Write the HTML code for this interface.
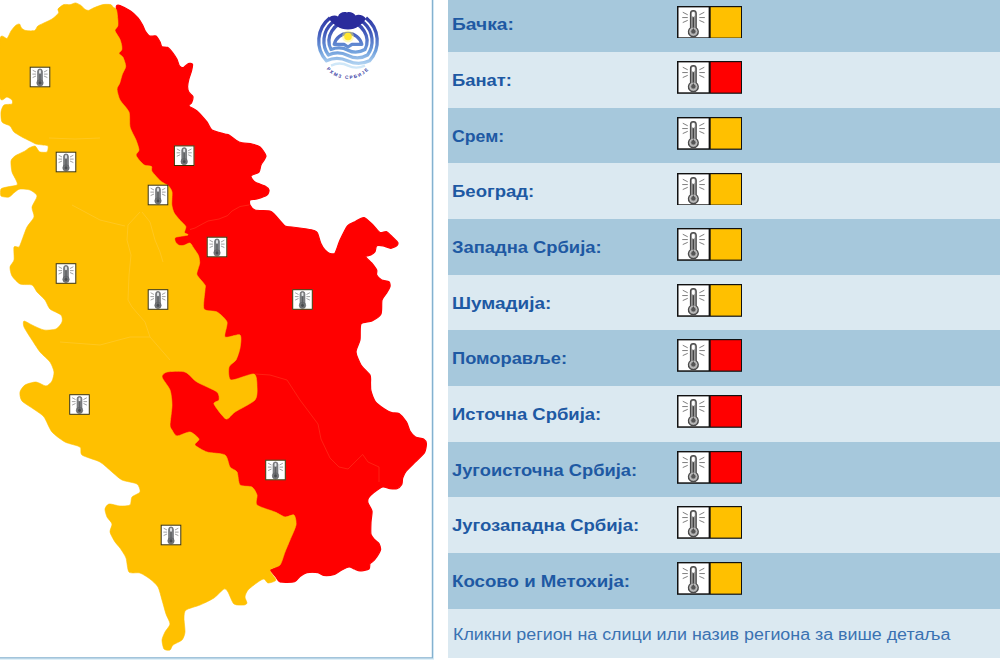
<!DOCTYPE html>
<html lang="sr"><head><meta charset="utf-8"><title>Upozorenja</title>
<style>
html,body{margin:0;padding:0;background:#fff;}
body{width:1000px;height:660px;overflow:hidden;position:relative;font-family:"Liberation Sans",sans-serif;}
#mapbox{position:absolute;left:0;top:0;width:440px;height:660px;overflow:hidden;}
#map{position:absolute;left:0;top:0;}
#legend{position:absolute;left:448px;top:0;width:552px;height:660px;overflow:hidden;}
.row{position:absolute;left:0;width:552px;}
.lbl{position:absolute;left:4px;top:50%;margin-top:-8px;height:18px;line-height:18px;font-size:16px;font-weight:bold;color:#1E59A3;white-space:nowrap;transform-origin:0 50%;display:inline-block;}
.ic{position:absolute;left:229px;top:9.1px;}
.ftx{position:absolute;left:5px;top:50%;margin-top:-7.5px;height:18px;line-height:18px;font-size:16px;color:#3a72b2;white-space:nowrap;transform-origin:0 50%;display:inline-block;}
</style></head><body>
<div id="mapbox"><svg id="map" width="440" height="660" viewBox="0 0 440 660">
<defs><symbol id="th" viewBox="0 0 32 32">
<rect x="0" y="0" width="32" height="32" fill="#fff"/>
<g stroke="#777" stroke-width="1" stroke-linecap="round" fill="none">
<path d="M5 5.5L9.5 7.8M4.5 10.9H9.5M5 16L9.5 14M27 5.5L22.5 7.8M27.5 10.9H22.5M27 16L22.5 14"/>
</g>
<path d="M12.8 6.5a3 3 0 0 1 6 0V21.6a5.2 5.2 0 1 1-6 0Z" fill="#9a9a9a" stroke="#4a4a4a" stroke-width="1.3"/>
<rect x="14.3" y="5" width="3" height="5" rx="1.2" fill="#fff"/>
<path d="M15.8 10.5V25" stroke="#444" stroke-width="1.4"/>
<circle cx="15.8" cy="25.6" r="2.2" fill="#555"/>
<circle cx="15.8" cy="25.6" r="3.6" fill="none" stroke="#c8c8c8" stroke-width="0.9"/>
</symbol>
<symbol id="ths" viewBox="0 0 20 20">
<rect x="0" y="0" width="20" height="20" fill="#fff"/>
<g stroke="#9a9a9a" stroke-width="0.9" stroke-linecap="round" fill="none">
<path d="M3.2 3.6L5.8 5M3 7.2H5.8M3.2 10.4L5.8 9.2M16.8 3.6L14.2 5M17 7.2H14.2M16.8 10.4L14.2 9.2"/>
</g>
<rect x="7.7" y="2.2" width="4.6" height="14" rx="2.3" fill="#808284" stroke="#606264" stroke-width="0.7"/>
<circle cx="10" cy="15.7" r="3.1" fill="#747678" stroke="#606264" stroke-width="0.6"/>
<rect x="9.1" y="3.3" width="1.8" height="3.4" rx="0.9" fill="#e4e6e8"/>
<path d="M10 7.2V15" stroke="#5e6062" stroke-width="1.3"/>
<circle cx="10" cy="15.8" r="1.4" fill="#4a4c4e"/>
</symbol></defs>
<path d="M116.5,9.8C116.3,8.2 116.1,6.4 116.5,5.9C116.9,5.4 118.4,5.0 120,5.6C121.6,6.2 128.4,9.6 130.5,11C132.6,12.4 136.4,16.1 137.8,17.7C139.2,19.3 141.8,23.5 142.6,25C143.4,26.5 144.2,29.2 145,30.5C145.8,31.8 148.5,35.4 149.8,36C151.1,36.6 154.8,35.3 156,36C157.2,36.7 159.3,40.6 160,41.8C160.7,43.0 160.9,45.9 161.8,46.6C162.7,47.3 166.2,46.7 167.5,47.4C168.8,48.1 171.9,51.6 173,53C174.1,54.4 176.2,57.9 177,59.4C177.8,60.9 178.7,65.0 179.5,65.9C180.3,66.8 182.5,67.8 183.5,67.5C184.5,67.2 187.3,63.9 188.4,63.5C189.5,63.1 192.1,63.5 192.5,64.3C192.9,65.1 192.0,69.0 191.6,70.7C191.2,72.4 189.5,76.8 189,78.7C188.5,80.6 187.6,85.1 187.6,86.7C187.6,88.3 188.4,91.3 189,92.4C189.6,93.5 192.6,95.2 192.9,96.4C193.2,97.6 192.1,101.7 191.6,102.8C191.1,103.9 188.4,105.0 189,106C189.6,107.0 194.9,109.1 197,111C199.1,112.9 205.2,119.8 207,122C208.8,124.2 209.9,128.6 212,130C214.1,131.4 223.0,133.4 225,134C227.0,134.6 227.4,134.1 229,135C230.6,135.9 236.3,140.9 239,142C241.7,143.1 249.6,143.4 252,144C254.4,144.6 258.4,145.6 260,147C261.6,148.4 265.9,153.9 266,156C266.1,158.1 261.8,163.1 261,165C260.2,166.9 260.2,170.7 259,172C257.8,173.3 251.5,174.8 251,176C250.5,177.2 253.4,180.8 255,182C256.6,183.2 263.4,185.1 265,186C266.6,186.9 268.8,188.9 269,190C269.2,191.1 268.4,193.9 267,195C265.6,196.1 259.0,198.4 257,199C255.0,199.6 250.8,199.3 250,200C249.2,200.7 249.4,203.8 250,205C250.6,206.2 252.7,209.3 255,210C257.3,210.7 267.7,210.4 270,211C272.3,211.6 273.2,213.2 275,215C276.8,216.8 283.0,224.6 285,226C287.0,227.4 289.4,226.7 292,227C294.6,227.3 304.4,228.6 307,229C309.6,229.4 312.8,230.0 314,230.5C315.2,231.0 316.7,231.5 317.5,233C318.3,234.5 319.9,241.3 320.8,243.3C321.7,245.3 323.9,248.8 325,250C326.1,251.2 328.8,253.2 330,253.5C331.2,253.8 333.8,254.6 335,253C336.2,251.4 338.5,243.2 340,240C341.5,236.8 345.8,227.9 347.5,225.8C349.2,223.7 353.1,222.7 355,221.7C356.9,220.7 361.9,217.1 364,217.5C366.1,217.9 371.1,223.2 373,225C374.9,226.8 378.4,231.7 380,232.5C381.6,233.3 385.2,231.1 386.7,231.7C388.2,232.3 391.7,236.2 393,237.5C394.3,238.8 397.4,241.5 397.8,242.5C398.2,243.5 397.5,245.1 396.7,245.8C395.9,246.5 392.4,248.3 390.8,248.3C389.2,248.3 384.6,246.1 383,245.8C381.4,245.5 377.6,245.1 376.7,245.8C375.8,246.5 375.7,250.6 375,251.7C374.3,252.8 371.9,254.4 370.8,255C369.7,255.6 365.7,255.8 365.8,256.7C365.9,257.6 370.4,261.4 371.7,263C373.0,264.6 376.1,268.6 376.7,270C377.3,271.4 376.1,273.8 376.7,275C377.3,276.2 380.3,279.2 381.7,280C383.1,280.8 388.0,280.9 389,281.7C390.0,282.5 390.3,285.4 390,286.7C389.7,288.0 387.6,291.4 386.7,293C385.8,294.6 382.7,297.6 382,300C381.3,302.4 382.2,311.6 381,314C379.8,316.4 374.3,319.8 372,321C369.7,322.2 362.4,321.8 361,324C359.6,326.2 360.6,336.7 360,340C359.4,343.3 355.9,349.1 356,352C356.1,354.9 359.4,362.3 361,365C362.6,367.7 368.9,372.9 370,375C371.1,377.1 370.4,381.1 370.5,383C370.6,384.9 370.4,388.8 371,391C371.6,393.2 373.9,399.7 375.5,401.8C377.1,403.9 382.6,407.7 384.5,409C386.4,410.3 390.1,412.2 391.8,412.7C393.5,413.2 397.3,412.5 399,413.6C400.7,414.7 405.1,419.8 406.4,421.8C407.7,423.8 408.9,429.2 410,431C411.1,432.8 413.9,436.1 415.5,437C417.1,437.9 422.3,438.2 423.6,439C424.9,439.8 426.3,442.0 426.4,443.6C426.5,445.2 425.8,450.6 424.5,452.7C423.2,454.8 417.6,459.7 415.5,461.8C413.4,463.9 407.9,469.1 406.4,471C404.9,472.9 403.2,476.4 402.7,478C402.2,479.6 402.5,483.3 401.8,484.5C401.1,485.7 398.4,488.2 397,488.7C395.6,489.2 391.7,488.9 390,488.7C388.3,488.5 384.6,486.5 382.7,487C380.8,487.5 375.3,491.4 373.6,492.7C371.9,494.0 369.2,496.8 368.5,498C367.8,499.2 367.6,501.5 368,503C368.4,504.5 371.6,508.8 372,511C372.4,513.2 371.1,519.3 371,522C370.9,524.7 370.5,532.4 371,534.5C371.5,536.6 374.1,538.9 375,540C375.9,541.1 378.4,542.4 379,543.6C379.6,544.8 381.0,548.1 380.5,550C380.0,551.9 375.7,558.4 374.5,560C373.3,561.6 370.6,562.6 370,563.6C369.4,564.6 370.2,568.1 369,569C367.8,569.9 361.7,571.0 360,571C358.3,571.0 355.8,569.5 354.5,569C353.2,568.5 350.5,566.9 349,567C347.5,567.1 343.5,569.1 341.8,570C340.1,570.9 336.6,573.9 334.5,574.5C332.4,575.1 325.5,575.7 323.6,575.5C321.7,575.3 319.9,573.0 318,572.7C316.1,572.4 309.1,572.3 307,572.7C304.9,573.1 301.5,575.3 300,576.4C298.5,577.5 296.8,581.1 294.5,581.8C292.2,582.5 282.2,582.6 280,582C277.8,581.4 277.2,578.4 276,577C274.8,575.6 270.7,570.8 270,570C269.3,569.2 268.8,570.6 270,570C271.2,569.4 278.2,567.1 280,565C281.8,562.9 283.8,554.9 285,552C286.2,549.1 288.7,543.1 290,540C291.3,536.9 295.5,527.9 296,525C296.5,522.1 295.3,515.9 294,515C292.7,514.1 287.2,517.4 285,517C282.8,516.6 278.3,513.4 275,512C271.7,510.6 259.1,507.0 257,505C254.9,503.0 257.6,497.1 257,495C256.4,492.9 254.0,488.2 252,487C250.0,485.8 241.8,486.8 240,485C238.2,483.2 238.2,474.1 237,472C235.8,469.9 231.4,469.0 230,467C228.6,465.0 227.7,456.8 225,455C222.3,453.2 210.5,453.2 207,452C203.5,450.8 195.9,446.5 195,445C194.1,443.5 199.6,440.5 199,439C198.4,437.5 192.6,432.4 190,432C187.4,431.6 179.1,436.2 177,436C174.9,435.8 172.8,431.3 172,430C171.2,428.7 170.0,427.9 170,425C170.0,422.1 172.0,409.1 172,405C172.0,400.9 171.2,393.3 170,390C168.8,386.7 162.3,379.1 162,377C161.7,374.9 164.3,372.6 167,372C169.7,371.4 181.5,370.8 185,372C188.5,373.2 193.3,379.7 197,382C200.7,384.3 214.4,389.9 217,392C219.6,394.1 219.3,398.6 219,400C218.7,401.4 213.2,401.8 214,404C214.8,406.2 223.6,418.1 226,419C228.4,419.9 231.6,414.2 235,412C238.4,409.8 252.4,402.9 255,400C257.6,397.1 257.1,390.0 257,387C256.9,384.0 257.0,374.8 254,374C251.0,373.2 233.9,380.8 231,380C228.1,379.2 228.4,369.3 229,367C229.6,364.7 234.7,362.2 236,360C237.3,357.8 239.5,350.9 240,348C240.5,345.1 241.8,336.3 240,335C238.2,333.7 226.5,338.5 225,337C223.5,335.5 227.9,324.9 227,322C226.1,319.1 219.7,313.5 217,312C214.3,310.5 205.4,311.6 204,309C202.6,306.4 204.9,292.8 205,290C205.1,287.2 205.9,286.8 205,285C204.1,283.2 197.8,276.9 197,275C196.2,273.1 197.7,270.4 198,269C198.3,267.6 199.6,264.6 199.7,263C199.8,261.4 199.2,257.4 198.5,255.6C197.8,253.8 194.6,249.5 193.6,248C192.6,246.5 191.1,243.3 190,243C188.9,242.7 185.3,245.0 184,245.3C182.7,245.6 180.0,245.7 179,245.3C178.0,244.9 175.9,242.9 175.5,242C175.1,241.1 174.0,238.2 175.5,237.4C177.0,236.6 186.9,235.6 188,235C189.1,234.4 184.8,233.6 184.5,232.6C184.2,231.6 186.3,227.9 185.8,226.5C185.3,225.1 181.7,222.1 180.3,220.5C178.9,218.9 175.2,214.8 174.2,213C173.2,211.2 172.1,207.4 171.8,205C171.5,202.6 172.4,194.2 172,192C171.6,189.8 169.8,187.3 168.5,186C167.2,184.7 162.5,182.7 160.6,181C158.7,179.3 153.1,173.1 152,171.4C150.9,169.7 152.3,167.2 151.5,166.5C150.7,165.8 146.1,165.9 144.8,165.3C143.5,164.7 141.0,162.2 140,161C139.0,159.8 136.1,156.3 136,155C135.9,153.7 139.0,151.8 139,150C139.0,148.2 137.1,142.7 136,140C134.9,137.3 130.8,130.3 130,127C129.2,123.7 130.2,115.2 129,112C127.8,108.8 121.4,102.7 120,100C118.6,97.3 117.0,91.0 117,89C117.0,87.0 119.2,84.8 119.8,83C120.4,81.2 121.7,75.9 122.4,74C123.1,72.1 125.6,68.3 125.7,66.4C125.8,64.5 123.8,58.8 123,57.3C122.2,55.8 119.2,54.3 119,53.4C118.8,52.5 121.4,50.9 121.7,50C122.0,49.1 121.9,46.9 121.7,45.6C121.5,44.3 120.6,40.8 119.8,39C119.0,37.2 115.2,32.1 115,30.6C114.8,29.1 117.5,27.3 117.8,26C118.1,24.7 118.0,21.4 117.8,19.5C117.6,17.6 116.7,11.4 116.5,9.8Z" fill="#FF0000" stroke="#FF0000" stroke-width="1.2" stroke-linejoin="round"/>
<path d="M0,39C0.8,32.2 5.7,39.3 7,38.4C8.3,37.5 10.0,32.5 11,31C12.0,29.5 14.6,26.2 15.6,25.4C16.6,24.6 18.8,23.7 19.5,24C20.2,24.3 20.7,27.2 21.5,28C22.3,28.8 24.5,30.3 26,30.6C27.5,30.9 33.1,31.1 34.5,30.6C35.9,30.1 36.8,26.8 37.8,26C38.8,25.2 41.3,24.2 43,23.4C44.7,22.6 50.2,20.2 52,19C53.8,17.8 57.9,14.2 58.6,13C59.3,11.8 57.4,10.0 58,9C58.6,8.0 62.4,5.1 63.8,4.6C65.2,4.1 68.9,4.8 70.3,4.6C71.7,4.4 74.3,2.8 75.5,2.9C76.7,3.0 79.6,4.5 80.7,5.2C81.8,5.9 83.7,8.4 84.6,9C85.5,9.6 87.4,10.5 88.5,10.4C89.6,10.3 92.1,8.5 93.8,7.8C95.5,7.1 101.0,5.0 103,4.6C105.0,4.2 109.5,4.3 110.7,4.6C111.9,4.9 112.3,6.4 113,7C113.7,7.6 115.9,8.3 116.5,9.8C117.1,11.3 117.6,17.6 117.8,19.5C118.0,21.4 118.1,24.7 117.8,26C117.5,27.3 114.8,29.1 115,30.6C115.2,32.1 119.0,37.2 119.8,39C120.6,40.8 121.5,44.3 121.7,45.6C121.9,46.9 122.0,49.1 121.7,50C121.4,50.9 118.8,52.5 119,53.4C119.2,54.3 122.2,55.8 123,57.3C123.8,58.8 125.8,64.5 125.7,66.4C125.6,68.3 123.1,72.1 122.4,74C121.7,75.9 120.4,81.2 119.8,83C119.2,84.8 117.0,87.0 117,89C117.0,91.0 118.6,97.3 120,100C121.4,102.7 127.8,108.8 129,112C130.2,115.2 129.2,123.7 130,127C130.8,130.3 134.9,137.3 136,140C137.1,142.7 139.0,148.2 139,150C139.0,151.8 135.9,153.7 136,155C136.1,156.3 139.0,159.8 140,161C141.0,162.2 143.5,164.7 144.8,165.3C146.1,165.9 150.7,165.8 151.5,166.5C152.3,167.2 150.9,169.7 152,171.4C153.1,173.1 158.7,179.3 160.6,181C162.5,182.7 167.2,184.7 168.5,186C169.8,187.3 171.6,189.8 172,192C172.4,194.2 171.5,202.6 171.8,205C172.1,207.4 173.2,211.2 174.2,213C175.2,214.8 178.9,218.9 180.3,220.5C181.7,222.1 185.3,225.1 185.8,226.5C186.3,227.9 184.2,231.6 184.5,232.6C184.8,233.6 189.1,234.4 188,235C186.9,235.6 177.0,236.6 175.5,237.4C174.0,238.2 175.1,241.1 175.5,242C175.9,242.9 178.0,244.9 179,245.3C180.0,245.7 182.7,245.6 184,245.3C185.3,245.0 188.9,242.7 190,243C191.1,243.3 192.6,246.5 193.6,248C194.6,249.5 197.8,253.8 198.5,255.6C199.2,257.4 199.8,261.4 199.7,263C199.6,264.6 198.3,267.6 198,269C197.7,270.4 196.2,273.1 197,275C197.8,276.9 204.1,283.2 205,285C205.9,286.8 205.1,287.2 205,290C204.9,292.8 202.6,306.4 204,309C205.4,311.6 214.3,310.5 217,312C219.7,313.5 226.1,319.1 227,322C227.9,324.9 223.5,335.5 225,337C226.5,338.5 238.2,333.7 240,335C241.8,336.3 240.5,345.1 240,348C239.5,350.9 237.3,357.8 236,360C234.7,362.2 229.6,364.7 229,367C228.4,369.3 228.1,379.2 231,380C233.9,380.8 251.0,373.2 254,374C257.0,374.8 256.9,384.0 257,387C257.1,390.0 257.6,397.1 255,400C252.4,402.9 238.4,409.8 235,412C231.6,414.2 228.4,419.9 226,419C223.6,418.1 214.8,406.2 214,404C213.2,401.8 218.7,401.4 219,400C219.3,398.6 219.6,394.1 217,392C214.4,389.9 200.7,384.3 197,382C193.3,379.7 188.5,373.2 185,372C181.5,370.8 169.7,371.4 167,372C164.3,372.6 161.7,374.9 162,377C162.3,379.1 168.8,386.7 170,390C171.2,393.3 172.0,400.9 172,405C172.0,409.1 170.0,422.1 170,425C170.0,427.9 171.2,428.7 172,430C172.8,431.3 174.9,435.8 177,436C179.1,436.2 187.4,431.6 190,432C192.6,432.4 198.4,437.5 199,439C199.6,440.5 194.1,443.5 195,445C195.9,446.5 203.5,450.8 207,452C210.5,453.2 222.3,453.2 225,455C227.7,456.8 228.6,465.0 230,467C231.4,469.0 235.8,469.9 237,472C238.2,474.1 238.2,483.2 240,485C241.8,486.8 250.0,485.8 252,487C254.0,488.2 256.4,492.9 257,495C257.6,497.1 254.9,503.0 257,505C259.1,507.0 271.7,510.6 275,512C278.3,513.4 282.8,516.6 285,517C287.2,517.4 292.7,514.1 294,515C295.3,515.9 296.5,522.1 296,525C295.5,527.9 291.3,536.9 290,540C288.7,543.1 286.2,549.1 285,552C283.8,554.9 281.8,562.9 280,565C278.2,567.1 270.5,568.2 270,570C269.5,571.8 276.2,578.5 276,580C275.8,581.5 269.4,583.1 268,583C266.6,582.9 265.2,579.1 264,579C262.8,578.9 259.9,580.7 258,582C256.1,583.3 249.5,588.2 248,590C246.5,591.8 245.1,595.5 245,597C244.9,598.5 247.1,602.1 247,603C246.9,603.9 245.5,604.9 244,605C242.5,605.1 235.9,605.5 234,604C232.1,602.5 229.2,593.8 228,592C226.8,590.2 225.6,588.3 224,589C222.4,589.7 216.8,596.1 214,598C211.2,599.9 203.3,603.6 200,605C196.7,606.4 187.9,608.5 186,610C184.1,611.5 184.1,615.4 184,618C183.9,620.6 185.2,629.4 185,632C184.8,634.6 183.4,638.5 182,640C180.6,641.5 174.4,643.8 173,645C171.6,646.2 171.1,649.5 170,650C168.9,650.5 164.9,650.2 164,649C163.1,647.8 161.9,642.0 162,640C162.1,638.0 164.1,633.9 165,632C165.9,630.1 169.9,626.1 170,624C170.1,621.9 166.9,616.8 166,614C165.1,611.2 162.9,603.1 162,600C161.1,596.9 159.4,589.5 158,587C156.6,584.5 152.1,580.6 150,579C147.9,577.4 142.4,573.8 140,573C137.6,572.2 130.6,573.8 129,572C127.4,570.2 127.0,560.8 126,558C125.0,555.2 121.3,549.9 120,548C118.7,546.1 116.2,543.9 115,542C113.8,540.1 110.3,534.1 110,532C109.7,529.9 112.3,525.8 112,524C111.7,522.2 107.8,518.8 107,517C106.2,515.2 104.8,510.5 105,509C105.2,507.5 107.2,504.4 109,504C110.8,503.6 117.5,505.9 120,506C122.5,506.1 128.6,506.1 130,505C131.4,503.9 130.8,498.5 132,497C133.2,495.5 139.4,493.5 140,492C140.6,490.5 139.1,485.4 137,484C134.9,482.6 124.9,481.4 122,480C119.1,478.6 114.6,474.1 112,472C109.4,469.9 103.5,464.0 100,462C96.5,460.0 84.3,456.8 82,455C79.7,453.2 82.0,448.5 80,447C78.0,445.5 68.3,443.8 65,442C61.7,440.2 54.5,434.9 52,432C49.5,429.1 46.0,419.6 44,417C42.0,414.4 37.6,411.9 35,410C32.4,408.1 23.8,403.1 22,401C20.2,398.9 19.6,393.9 20,392C20.4,390.1 23.1,386.2 25,385C26.9,383.8 33.5,381.9 36,382C38.5,382.1 44.1,386.1 46,386C47.9,385.9 51.1,382.6 52,381C52.9,379.4 54.2,374.2 54,372C53.8,369.8 51.6,364.3 50,362C48.4,359.7 42.1,354.6 40,352C37.9,349.4 33.9,342.9 32,340C30.1,337.1 24.9,329.2 24,327C23.1,324.8 23.1,321.2 24,321C24.9,320.8 29.7,323.9 32,325C34.3,326.1 41.2,329.5 44,330C46.8,330.5 53.9,329.9 56,329C58.1,328.1 61.4,323.6 62,322C62.6,320.4 62.4,316.5 61,315C59.6,313.5 51.9,310.8 50,309C48.1,307.2 46.5,302.0 45,300C43.5,298.0 38.5,293.8 37,292C35.5,290.2 34.0,285.9 32,285C30.0,284.1 22.3,285.1 20,284C17.7,282.9 13.2,278.0 12,276C10.8,274.0 9.8,268.9 10,267C10.2,265.1 13.5,262.3 14,260C14.5,257.7 13.4,248.5 14,247C14.6,245.5 18.1,247.8 19,247C19.9,246.2 21.1,242.3 22,240C22.9,237.7 25.6,229.7 27,227C28.4,224.3 33.4,219.3 34,217C34.6,214.7 31.6,209.4 32,207C32.4,204.6 37.2,198.0 37,196C36.8,194.0 32.0,190.8 30,190C28.0,189.2 21.8,188.8 20,189C18.2,189.2 16.3,191.1 15,192C13.7,192.9 10.6,196.5 9,197C7.4,197.5 1.9,196.9 1,196C0.1,195.1 0.3,190.1 1,189C1.7,187.9 5.1,187.5 7,187C8.9,186.5 15.9,185.8 17,185C18.1,184.2 16.6,181.5 16,180C15.4,178.5 12.6,174.2 12,172C11.4,169.8 10.7,162.9 11,161C11.3,159.1 13.4,157.2 15,156C16.6,154.8 23.4,151.9 25,151C26.6,150.1 27.8,148.6 29,148C30.2,147.4 34.0,145.8 35,146C36.0,146.2 37.4,149.3 38,150C38.6,150.7 39.0,151.8 40,152C41.0,152.2 46.1,152.7 47,152C47.9,151.3 48.5,146.8 48,146C47.5,145.2 44.4,145.2 43,145C41.6,144.8 37.5,144.5 36,144C34.5,143.5 31.6,141.8 30,141C28.4,140.2 23.9,138.1 22,137C20.1,135.9 15.4,133.3 14,132C12.6,130.7 11.4,127.2 10,126C8.6,124.8 3.0,123.6 2,122C0.9,120.4 0.8,114.0 1,112C1.2,110.0 2.7,105.9 4,105C5.3,104.1 11.1,104.6 12,104C12.9,103.4 12.6,100.8 12,100C11.4,99.2 8.4,97.3 7,97C5.6,96.7 0.8,103.8 0,97C-0.8,90.2 -0.8,45.8 0,39Z" fill="#FFC000" stroke="#FFC000" stroke-width="0.6" stroke-linejoin="round"/>
<g fill="none" stroke="#ffd65c" stroke-width="1" opacity="0.35"><polyline points="72,205 100,220 125,226"/><polyline points="140,212 128,225 127,240 131,255 129,275 128,300 132,307 145,322 150,337 170,360"/><polyline points="142,212 150,222 155,240 160,252 163,262"/><polyline points="60,342 100,345 130,337 150,337"/><polyline points="49,138 75,139 100,138"/></g><g fill="none" stroke="#ff4a2a" stroke-width="1" opacity="0.45"><polyline points="249,205 240,206.5 232,211 227.6,215.6 219,219 208,221 201,224.7 195,228 190,229.5"/><polyline points="255,374 270,375 287,380 300,400 318,424 321,439 330,458 339,467 348,469 357,460 362.7,454.5 368,462 379,467 379,482"/></g>
<g transform="translate(29.7,66.7)"><use href="#ths" width="20.6" height="20.6"/><rect x="0.5" y="0.5" width="19.6" height="19.6" fill="none" stroke="#3a3000" stroke-width="1"/></g>
<g transform="translate(55.7,151.7)"><use href="#ths" width="20.6" height="20.6"/><rect x="0.5" y="0.5" width="19.6" height="19.6" fill="none" stroke="#3a3000" stroke-width="1"/></g>
<g transform="translate(173.89999999999998,145.39999999999998)"><use href="#ths" width="20.6" height="20.6"/><rect x="0.5" y="0.5" width="19.6" height="19.6" fill="none" stroke="#3a3000" stroke-width="1"/></g>
<g transform="translate(147.7,184.7)"><use href="#ths" width="20.6" height="20.6"/><rect x="0.5" y="0.5" width="19.6" height="19.6" fill="none" stroke="#3a3000" stroke-width="1"/></g>
<g transform="translate(206.7,236.7)"><use href="#ths" width="20.6" height="20.6"/><rect x="0.5" y="0.5" width="19.6" height="19.6" fill="none" stroke="#3a3000" stroke-width="1"/></g>
<g transform="translate(55.7,263.2)"><use href="#ths" width="20.6" height="20.6"/><rect x="0.5" y="0.5" width="19.6" height="19.6" fill="none" stroke="#3a3000" stroke-width="1"/></g>
<g transform="translate(147.7,289.2)"><use href="#ths" width="20.6" height="20.6"/><rect x="0.5" y="0.5" width="19.6" height="19.6" fill="none" stroke="#3a3000" stroke-width="1"/></g>
<g transform="translate(292.2,289.2)"><use href="#ths" width="20.6" height="20.6"/><rect x="0.5" y="0.5" width="19.6" height="19.6" fill="none" stroke="#3a3000" stroke-width="1"/></g>
<g transform="translate(69.2,394.2)"><use href="#ths" width="20.6" height="20.6"/><rect x="0.5" y="0.5" width="19.6" height="19.6" fill="none" stroke="#3a3000" stroke-width="1"/></g>
<g transform="translate(265.2,459.7)"><use href="#ths" width="20.6" height="20.6"/><rect x="0.5" y="0.5" width="19.6" height="19.6" fill="none" stroke="#3a3000" stroke-width="1"/></g>
<g transform="translate(160.7,524.7)"><use href="#ths" width="20.6" height="20.6"/><rect x="0.5" y="0.5" width="19.6" height="19.6" fill="none" stroke="#3a3000" stroke-width="1"/></g>
<g id="logo" transform="translate(348,41)">
<defs><linearGradient id="lg" gradientUnits="userSpaceOnUse" x1="0" y1="-30" x2="0" y2="27"><stop offset="0" stop-color="#2a2c9c"/><stop offset="0.35" stop-color="#3f55b8"/><stop offset="0.7" stop-color="#6f9fdc"/><stop offset="1" stop-color="#c4e2f7"/></linearGradient>
<path id="tarc" d="M-24.5,23.5 A28,28 0 0 0 24.5,23.5"/></defs>
<g fill="none" stroke="url(#lg)" stroke-width="3.3" stroke-linejoin="round">
<path d="M-18,-23.1 A29.3,29.3 0 0 0 -21.5,19.8 Q-11,15 0,20 Q11,25 21.5,19.8 A29.3,29.3 0 0 0 18,-23.1"/>
<path d="M-19.6,14 A24.1,24.1 0 1 1 19.6,14 Q10,19.5 0,14.5 Q-10,9.5 -19.6,14Z"/>
<path d="M-17,8.5 A19,19 0 1 1 17,8.5 Q8,13.5 0,9.2 Q-8,5 -17,8.5Z"/>
<path d="M-13.8,3.3 A14.2,14.2 0 0 1 13.8,3.3 L4,3.3 L0,6 L-4,3.3Z" fill="#fff"/>
<path d="M-17,24.6 Q-8,20.5 0,24.6 Q8,28.6 17,24.6" stroke="#cfe7f8" stroke-width="2.4"/>
</g>
<path d="M-19,-22.3 C-18.5,-25 -13,-26.5 -10,-24.5 C-9,-28 -5,-29.6 -1,-28.6 C2,-29.6 6,-28 7.5,-25.5 C10,-27 16,-26 18,-22.3 C14,-16.5 8,-11.5 0,-11.5 C-8,-11.5 -15,-16.5 -19,-22.3Z" fill="#2a2c9c"/>
<circle cx="0" cy="-4.5" r="6" fill="#fff36a" opacity="0.45"/>
<circle cx="0" cy="-4.5" r="3.8" fill="#ffe62e"/>
<text font-family="Liberation Sans, sans-serif" font-size="4.6" fill="#34389f" letter-spacing="1.45" font-weight="bold"><textPath href="#tarc" startOffset="50%" text-anchor="middle">РХМЗ  СРБИЈЕ</textPath></text>
</g><path d="M433.5,0V659M0,659.2H434" fill="none" stroke="#d3e9f5" stroke-width="1"/><path d="M432.4,0V658.5M0,657.9H433" fill="none" stroke="#84b1cf" stroke-width="1.25"/></svg></div>
<div id="legend">
<div class="row" style="top:-3.56px;height:55.66px;background:#A6C8DC"><span class="lbl" id="l0" style="transform:scaleX(1.2000)">Бачка:</span><svg class="ic" width="65.4" height="32.8" viewBox="0 0 66 33" preserveAspectRatio="none"><rect x="0" y="0" width="66" height="33" fill="#111"/><use href="#th" x="1.2" y="1.2" width="31" height="30.6"/><rect x="34" y="1.2" width="30.6" height="30.6" fill="#FFC000"/></svg></div>
<div class="row" style="top:52.10px;height:55.66px;background:#DBE9F1"><span class="lbl" id="l1" style="transform:scaleX(1.1480)">Банат:</span><svg class="ic" width="65.4" height="32.8" viewBox="0 0 66 33" preserveAspectRatio="none"><rect x="0" y="0" width="66" height="33" fill="#111"/><use href="#th" x="1.2" y="1.2" width="31" height="30.6"/><rect x="34" y="1.2" width="30.6" height="30.6" fill="#FF0000"/></svg></div>
<div class="row" style="top:107.76px;height:55.66px;background:#A6C8DC"><span class="lbl" id="l2" style="transform:scaleX(1.1043)">Срем:</span><svg class="ic" width="65.4" height="32.8" viewBox="0 0 66 33" preserveAspectRatio="none"><rect x="0" y="0" width="66" height="33" fill="#111"/><use href="#th" x="1.2" y="1.2" width="31" height="30.6"/><rect x="34" y="1.2" width="30.6" height="30.6" fill="#FFC000"/></svg></div>
<div class="row" style="top:163.42px;height:55.66px;background:#DBE9F1"><span class="lbl" id="l3" style="transform:scaleX(1.1588)">Београд:</span><svg class="ic" width="65.4" height="32.8" viewBox="0 0 66 33" preserveAspectRatio="none"><rect x="0" y="0" width="66" height="33" fill="#111"/><use href="#th" x="1.2" y="1.2" width="31" height="30.6"/><rect x="34" y="1.2" width="30.6" height="30.6" fill="#FFC000"/></svg></div>
<div class="row" style="top:219.08px;height:55.66px;background:#A6C8DC"><span class="lbl" id="l4" style="transform:scaleX(1.1473)">Западна Србија:</span><svg class="ic" width="65.4" height="32.8" viewBox="0 0 66 33" preserveAspectRatio="none"><rect x="0" y="0" width="66" height="33" fill="#111"/><use href="#th" x="1.2" y="1.2" width="31" height="30.6"/><rect x="34" y="1.2" width="30.6" height="30.6" fill="#FFC000"/></svg></div>
<div class="row" style="top:274.74px;height:55.66px;background:#DBE9F1"><span class="lbl" id="l5" style="transform:scaleX(1.1827)">Шумадија:</span><svg class="ic" width="65.4" height="32.8" viewBox="0 0 66 33" preserveAspectRatio="none"><rect x="0" y="0" width="66" height="33" fill="#111"/><use href="#th" x="1.2" y="1.2" width="31" height="30.6"/><rect x="34" y="1.2" width="30.6" height="30.6" fill="#FFC000"/></svg></div>
<div class="row" style="top:330.40px;height:55.66px;background:#A6C8DC"><span class="lbl" id="l6" style="transform:scaleX(1.1429)">Поморавље:</span><svg class="ic" width="65.4" height="32.8" viewBox="0 0 66 33" preserveAspectRatio="none"><rect x="0" y="0" width="66" height="33" fill="#111"/><use href="#th" x="1.2" y="1.2" width="31" height="30.6"/><rect x="34" y="1.2" width="30.6" height="30.6" fill="#FF0000"/></svg></div>
<div class="row" style="top:386.06px;height:55.66px;background:#DBE9F1"><span class="lbl" id="l7" style="transform:scaleX(1.1528)">Источна Србија:</span><svg class="ic" width="65.4" height="32.8" viewBox="0 0 66 33" preserveAspectRatio="none"><rect x="0" y="0" width="66" height="33" fill="#111"/><use href="#th" x="1.2" y="1.2" width="31" height="30.6"/><rect x="34" y="1.2" width="30.6" height="30.6" fill="#FF0000"/></svg></div>
<div class="row" style="top:441.72px;height:55.66px;background:#A6C8DC"><span class="lbl" id="l8" style="transform:scaleX(1.1438)">Југоисточна Србија:</span><svg class="ic" width="65.4" height="32.8" viewBox="0 0 66 33" preserveAspectRatio="none"><rect x="0" y="0" width="66" height="33" fill="#111"/><use href="#th" x="1.2" y="1.2" width="31" height="30.6"/><rect x="34" y="1.2" width="30.6" height="30.6" fill="#FF0000"/></svg></div>
<div class="row" style="top:497.38px;height:55.66px;background:#DBE9F1"><span class="lbl" id="l9" style="transform:scaleX(1.1562)">Југозападна Србија:</span><svg class="ic" width="65.4" height="32.8" viewBox="0 0 66 33" preserveAspectRatio="none"><rect x="0" y="0" width="66" height="33" fill="#111"/><use href="#th" x="1.2" y="1.2" width="31" height="30.6"/><rect x="34" y="1.2" width="30.6" height="30.6" fill="#FFC000"/></svg></div>
<div class="row" style="top:553.04px;height:55.66px;background:#A6C8DC"><span class="lbl" id="l10" style="transform:scaleX(1.1667)">Косово и Метохија:</span><svg class="ic" width="65.4" height="32.8" viewBox="0 0 66 33" preserveAspectRatio="none"><rect x="0" y="0" width="66" height="33" fill="#111"/><use href="#th" x="1.2" y="1.2" width="31" height="30.6"/><rect x="34" y="1.2" width="30.6" height="30.6" fill="#FFC000"/></svg></div>
<div class="row foot" style="top:608.7px;height:49.5px;background:#DBE9F1"><span class="ftx" id="ft" style="transform:scaleX(1.1151)">Кликни регион на слици или назив региона за више детаља</span></div>
</div>
</body></html>
